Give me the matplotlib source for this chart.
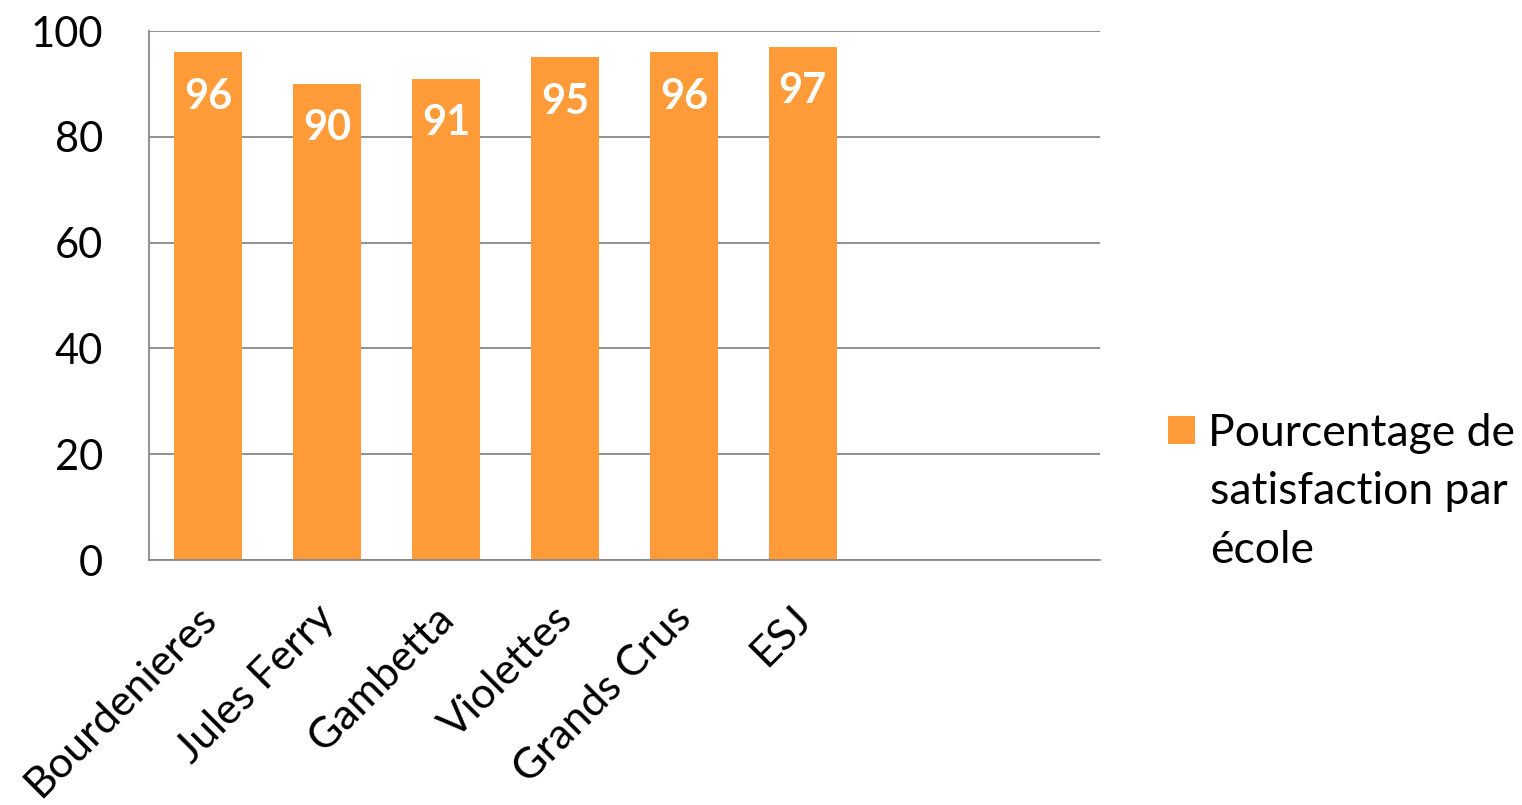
import matplotlib.pyplot as plt
import matplotlib.transforms as mtransforms
import numpy as np

categories = ["Bourdenieres", "Jules Ferry", "Gambetta", "Violettes", "Grands Crus", "ESJ"]
values = [96, 90, 91, 95, 96, 97]
legend_lines = ["Pourcentage de", "satisfaction par", "école"]
n_slots = 8  # the chart keeps two empty category slots on the right

BAR = "#FF9B38"
GRID = "#888888"
W, H = 1522, 805

plt.rcParams["font.family"] = ["Lato", "DejaVu Sans"]

fig = plt.figure(figsize=(W / 100, H / 100), dpi=100)
ax = fig.add_axes([149 / W, 245 / H, 951 / W, 529 / H])

x = np.arange(len(categories))
bars = ax.bar(x, values, width=0.572, color=BAR, zorder=2)

for bar, val in zip(bars, values):
    ax.annotate(f"{val}", (bar.get_x() + bar.get_width() / 2, val),
                xytext=(0, -32), textcoords="offset points",
                ha="center", va="center", color="white",
                fontsize=30, fontweight="bold", zorder=3)

ax.set_xlim(-0.5, n_slots - 0.5)
ax.set_ylim(0, 100)
ax.set_yticks(np.arange(0, 101, 20))
ax.yaxis.grid(True, color=GRID, linewidth=1.3, zorder=0)
ax.set_axisbelow(True)

ax.set_xticks(x)
ax.set_xticklabels(categories, rotation=45, ha="right", va="top",
                   rotation_mode="anchor", fontsize=31)
ax.tick_params(axis="x", length=0, pad=28)
ax.tick_params(axis="y", length=0, pad=33, labelsize=30)
shift = mtransforms.ScaledTranslation(-12 / 100, 0, fig.dpi_scale_trans)
for lbl in ax.get_xticklabels():
    lbl.set_transform(lbl.get_transform() + shift)

for side in ["top", "right"]:
    ax.spines[side].set_visible(False)
for side in ["left", "bottom"]:
    ax.spines[side].set_color(GRID)
    ax.spines[side].set_linewidth(1.3)

# legend: handle beside the first line, the rest of the label wraps below
fig.legend([bars], [legend_lines[0]], loc="center left",
           bbox_to_anchor=(1168 / W, 1 - 433 / H), frameon=False,
           fontsize=32, handlelength=0.6, handleheight=0.6,
           handletextpad=0.3, borderaxespad=0, borderpad=0)
for i, line in enumerate(legend_lines[1:], start=1):
    fig.text(1210 / W, 1 - (445 + 59 * i) / H, line,
             ha="left", va="baseline", fontsize=32)

plt.savefig("out.png", dpi=100)
plt.close()
